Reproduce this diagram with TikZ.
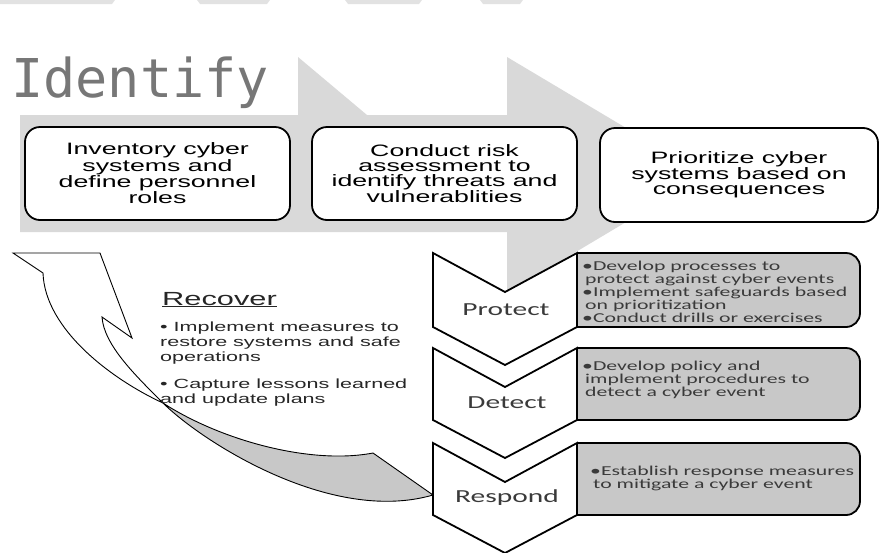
\documentclass[tikz,border=0pt]{standalone}
\usepackage{fontspec}
\newfontfamily\boxfont[FakeStretch=1.62]{Liberation Sans}
\newfontfamily\stepfont[FakeStretch=1.6]{Carlito}
\newfontfamily\listfont[FakeStretch=1.6]{Carlito}
\newfontfamily\monofont{DejaVu Sans Mono}

\definecolor{arrowgrey}{HTML}{D9D9D9}
\definecolor{panelgrey}{HTML}{C8C8C8}
\definecolor{titlegrey}{HTML}{777777}
\definecolor{fadegrey}{HTML}{E2E2E2}
\definecolor{textgrey}{HTML}{3A3A3A}

\tikzset{
  taskbox/.style={draw, line width=1.8, rounded corners=15, fill=white,
    inner sep=0, align=center, font=\boxfont\fontsize{16.5}{15}\selectfont},
  chevron/.style={draw, line width=1.8, fill=white, line join=miter},
  panel/.style={draw, line width=1.8, fill=panelgrey, rounded corners=14},
  paneltext/.style={font=\listfont\fontsize{13.6}{13}\selectfont, text=textgrey,
    align=left, anchor=west, inner sep=0},
  steplabel/.style={font=\stepfont\fontsize{18.4}{20}\selectfont, text=textgrey, inner sep=0},
  ribbon/.style={draw, line width=0.9, line join=miter},
}

\newcommand\stepchevron[2]{%
  \draw[panel] (577,#1) -- (860,#1) -- (860,#2) -- (577,#2);
  \draw[chevron] (433,#1) -- (505,#1+39) -- (577,#1) -- (577,#2)
    -- (505,#2+38) -- (433,#2) -- cycle;
}

\begin{document}
\begin{tikzpicture}[x=1pt, y=-1pt]
    \useasboundingbox (0,0) rectangle (885,552);

    \fill[fadegrey] (0,0) -- (115,0) -- (112,4) -- (0,4) -- cycle;
    \fill[fadegrey] (197,0) -- (270,0) -- (267,4) -- (200,4) -- cycle;
    \fill[fadegrey] (345,0) -- (422,0) -- (419,4) -- (348,4) -- cycle;
    \fill[fadegrey] (480,0) -- (523,0) -- (520,4) -- (483,4) -- cycle;

    \fill[arrowgrey] (20,115) -- (298,115) -- (298,57) -- (367,115) -- (507,115)
      -- (507,57) -- (705,175) -- (507,293) -- (507,232) -- (20,232) -- cycle;
    \node[anchor=base west, inner sep=0, text=titlegrey,
      font=\monofont\fontsize{53.5}{60}\selectfont] (identify) at (11,97) {Identify};

    \node[taskbox, minimum width=265pt, minimum height=93pt] (inventory) at (157.5,173.5)
      {Inventory cyber\\systems and\\define personnel\\roles};
    \node[taskbox, minimum width=265pt, minimum height=93pt] (assess) at (444.5,173.5)
      {Conduct risk\\assessment to\\identify threats and\\vulnerablities};
    \node[taskbox, minimum width=278pt, minimum height=94pt] (prioritize) at (739,175)
      {Prioritize cyber\\systems based on\\consequences};

    \draw[ribbon, fill=panelgrey] (163,403) .. controls (220,440) and (310,465) .. (373,453)
      -- (433,495) .. controls (330,525) and (200,440) .. (163,403);
    \draw[ribbon, fill=white] (13,253) -- (100,253) -- (132,338) -- (102,317)
      .. controls (104,345) and (135,375) .. (163,403)
      .. controls (113,380) and (45,330) .. (43,273) -- cycle;

    \stepchevron{253}{327}
    \stepchevron{348}{420}
    \stepchevron{443}{515}

    \node[steplabel] (protect) at (506,310) {Protect};
    \node[steplabel] (detect) at (507,403) {Detect};
    \node[steplabel] (respond) at (507,498) {Respond};

    \node[paneltext] (protectlist) at (582,292)
      {•Develop processes to\\\hspace*{3pt}protect against cyber events\\
       •Implement safeguards based\\\hspace*{3pt}on prioritization\\
       •Conduct drills or exercises};
    \node[paneltext] (detectlist) at (582,380)
      {•Develop policy and\\\hspace*{3pt}implement procedures to\\\hspace*{3pt}detect a cyber event};
    \node[paneltext] (respondlist) at (590,478.5)
      {•Establish response measures\\\hspace*{3pt}to mitigate a cyber event};

    \node[anchor=base west, inner sep=0, text=black!85,
      font=\boxfont\fontsize{19}{20}\selectfont] (recover) at (162,305) {\underline{Recover}};
    \node[anchor=west, inner sep=0, align=left, text=black!85,
      font=\boxfont\fontsize{13.3}{15}\selectfont] (recoverlist) at (160,364)
      {• Implement measures to\\restore systems and safe\\operations\\[12pt]
       • Capture lessons learned\\and update plans};
\end{tikzpicture}
\end{document}
